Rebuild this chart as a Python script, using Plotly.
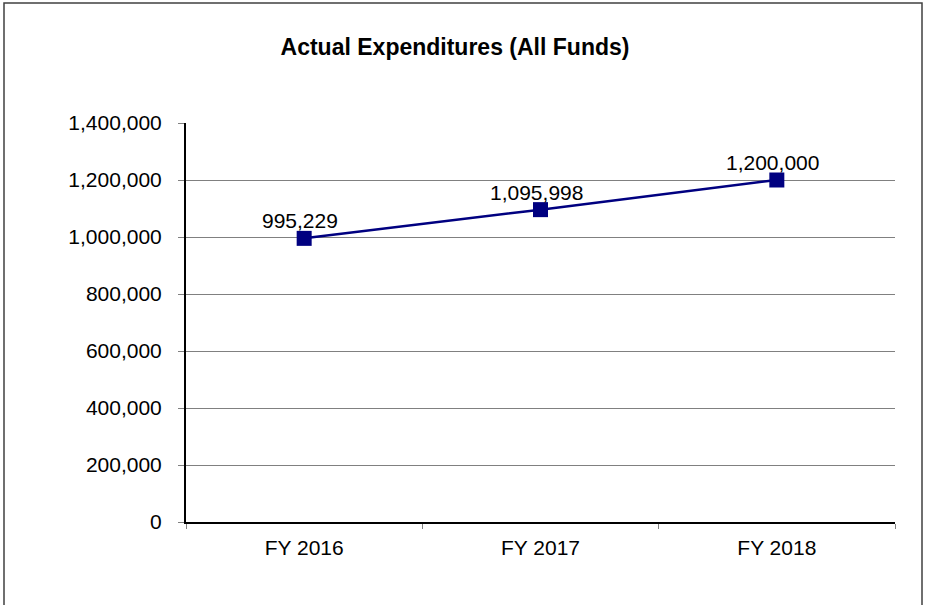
import plotly.graph_objects as go

categories = ["FY 2016", "FY 2017", "FY 2018"]
values = [995229, 1095998, 1200000]
labels = ["995,229", "1,095,998", "1,200,000"]
y_ticks = [0, 200000, 400000, 600000, 800000, 1000000, 1200000, 1400000]
y_tick_text = ["0", "200,000", "400,000", "600,000", "800,000", "1,000,000", "1,200,000", "1,400,000"]

W, H = 930, 605
L, R, T, B = 186, 35, 123, 83
pw, ph = W - L - R, H - T - B

fig = go.Figure()
fig.add_trace(go.Scatter(
    x=categories, y=values, mode="lines+markers",
    line=dict(color="#000080", width=2.5),
    marker=dict(symbol="square", size=15, color="#000080"),
    cliponaxis=False, showlegend=False, hoverinfo="skip",
))

annotations = [
    dict(x=c, y=v, text=t, xref="x", yref="y", showarrow=False,
         xanchor="center", yanchor="bottom", xshift=-4, yshift=4,
         font=dict(family="Liberation Sans, Arial", size=21, color="black"))
    for c, v, t in zip(categories, values, labels)
]

fig.update_layout(
    width=W, height=H,
    margin=dict(l=L, r=R, t=T, b=B),
    paper_bgcolor="white", plot_bgcolor="white",
    font=dict(family="Liberation Sans, Arial", size=21, color="black"),
    title=dict(text="<b>Actual Expenditures (All Funds)</b>",
               x=455 / W, xanchor="center", y=1 - 47 / H, yanchor="middle",
               font=dict(size=23, color="black")),
    xaxis=dict(type="category", range=[-0.5, 2.5], tickson="boundaries",
               ticks="outside", ticklen=5, tickcolor="#808080",
               showline=True, linecolor="black", linewidth=2,
               showgrid=False, tickfont=dict(size=21), ticklabelstandoff=6),
    yaxis=dict(range=[0, 1400000], tickvals=y_ticks, ticktext=y_tick_text,
               ticks="outside", ticklen=6, tickcolor="#808080",
               showline=True, linecolor="black", linewidth=2,
               showgrid=True, gridcolor="#808080", gridwidth=1,
               zeroline=False, tickfont=dict(size=21), ticklabelstandoff=12),
    annotations=annotations,
    shapes=[dict(type="rect", xref="paper", yref="paper",
                 x0=(4 - L) / pw, x1=(922 - L) / pw,
                 y0=(H - B - 610) / ph, y1=(H - B - 3) / ph,
                 line=dict(color="#404040", width=1.5), layer="below")],
)

fig.write_html("out.html", config={"displayModeBar": False},
               post_script="document.body.style.margin='0';document.body.style.overflow='hidden';")
